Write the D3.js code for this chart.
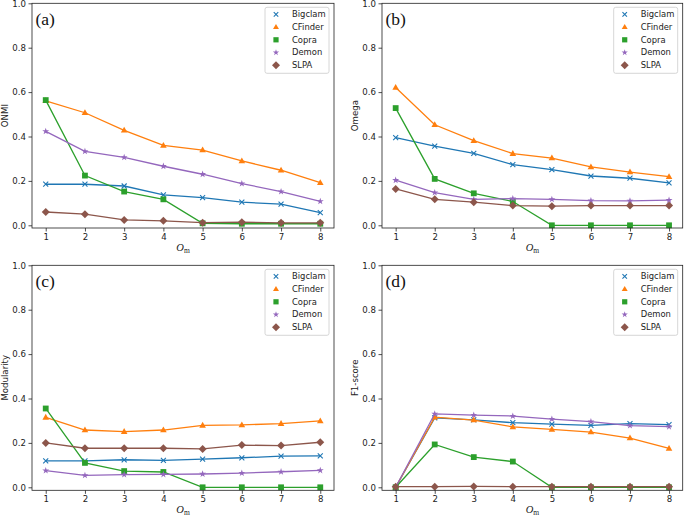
<!DOCTYPE html>
<html><head><meta charset="utf-8">
<script src="https://cdn.jsdelivr.net/npm/d3@7"></script>
<style>body{margin:0;background:#fff} svg{display:block}</style>
</head><body>
<script>
const omValues = [1, 2, 3, 4, 5, 6, 7, 8];
const algorithms = ["Bigclam", "CFinder", "Copra", "Demon", "SLPA"];
const colors = ["#1f77b4", "#ff7f0e", "#2ca02c", "#9467bd", "#8c564b"];
const markerTypes = ["x", "triangle", "square", "star", "diamond"];
const yTicks = [0, 0.2, 0.4, 0.6, 0.8, 1.0];
const panelLetters = ["(a)", "(b)", "(c)", "(d)"];
const metricNames = ["ONMI", "Omega", "Modularity", "F1-score"];

// values per algorithm (Bigclam, CFinder, Copra, Demon, SLPA)
const onmiValues = [
  [0.185, 0.185, 0.177, 0.137, 0.125, 0.104, 0.095, 0.057],
  [0.561, 0.507, 0.428, 0.360, 0.339, 0.290, 0.248, 0.192],
  [0.564, 0.224, 0.152, 0.117, 0.009, 0.007, 0.007, 0.007],
  [0.423, 0.333, 0.306, 0.266, 0.230, 0.188, 0.152, 0.108],
  [0.060, 0.050, 0.024, 0.020, 0.012, 0.014, 0.011, 0.011]
];
const omegaValues = [
  [0.395, 0.357, 0.324, 0.273, 0.251, 0.222, 0.212, 0.191],
  [0.621, 0.453, 0.381, 0.323, 0.303, 0.263, 0.240, 0.219],
  [0.528, 0.209, 0.144, 0.107, 0.000, 0.000, 0.000, 0.000],
  [0.203, 0.147, 0.117, 0.120, 0.117, 0.111, 0.110, 0.113],
  [0.164, 0.117, 0.104, 0.089, 0.086, 0.089, 0.089, 0.089]
];
const modularityValues = [
  [0.119, 0.119, 0.124, 0.121, 0.127, 0.133, 0.140, 0.142],
  [0.315, 0.258, 0.251, 0.258, 0.279, 0.281, 0.287, 0.299],
  [0.355, 0.110, 0.073, 0.069, 0.000, 0.000, 0.000, 0.000],
  [0.075, 0.054, 0.057, 0.058, 0.060, 0.064, 0.070, 0.076],
  [0.200, 0.176, 0.176, 0.176, 0.173, 0.190, 0.188, 0.203]
];
const f1Values = [
  [0.000, 0.313, 0.304, 0.291, 0.285, 0.279, 0.287, 0.282],
  [0.000, 0.316, 0.303, 0.272, 0.261, 0.249, 0.222, 0.175],
  [0.000, 0.193, 0.136, 0.116, 0.000, 0.000, 0.000, 0.000],
  [0.000, 0.331, 0.325, 0.321, 0.307, 0.296, 0.278, 0.273],
  [0.003, 0.003, 0.004, 0.003, 0.003, 0.003, 0.003, 0.003]
];
const panelData = [onmiValues, omegaValues, modularityValues, f1Values];

const W = 685, H = 516;
const svg = d3.select("body").append("svg").attr("width", W).attr("height", H);
const font = "DejaVu Sans, sans-serif";

const layouts = [
  {left: 32, right: 334, top: 3.3, bottom: 228, zero: 225.3, ylabX: 5},
  {left: 382, right: 682.7, top: 3.3, bottom: 228, zero: 225.3, ylabX: 355},
  {left: 32, right: 334, top: 265.3, bottom: 490.3, zero: 487.3, ylabX: 5},
  {left: 382, right: 682.7, top: 265.3, bottom: 490.3, zero: 487.3, ylabX: 355}
];

function drawMarker(g, x, y, type, color, k) {
  k = k || 1;
  if (type === "x") {
    const r = 2.5 * k;
    g.append("path").attr("d", `M${x-r},${y-r}L${x+r},${y+r}M${x-r},${y+r}L${x+r},${y-r}`)
      .attr("stroke", color).attr("stroke-width", 1.1).attr("fill", "none");
  } else if (type === "triangle") {
    g.append("path").attr("d", `M${x},${y-3.5*k}L${x+3.3*k},${y+2.3*k}L${x-3.3*k},${y+2.3*k}Z`).attr("fill", color);
  } else if (type === "square") {
    const s = 2.9 * k;
    g.append("rect").attr("x", x-s).attr("y", y-s).attr("width", 2*s).attr("height", 2*s).attr("fill", color);
  } else if (type === "star") {
    g.append("path").attr("d", d3.symbol(d3.symbolStar, 15 * k * k)()).attr("transform", `translate(${x},${y})`).attr("fill", color);
  } else if (type === "diamond") {
    const r = 4 * k;
    g.append("path").attr("d", `M${x},${y-r}L${x+r},${y}L${x},${y+r}L${x-r},${y}Z`).attr("fill", color);
  }
}

layouts.forEach((L, p) => {
  const yMin = -(L.bottom - L.zero) / (L.zero - L.top);
  const x = d3.scaleLinear().domain([0.65, 8.35]).range([L.left, L.right]);
  const y = d3.scaleLinear().domain([yMin, 1]).range([L.bottom, L.top]);
  const g = svg.append("g");

  const xAxis = d3.axisBottom(x).tickValues(omValues).tickFormat(d3.format("d")).tickSize(3.5).tickPadding(2.5);
  const yAxis = d3.axisLeft(y).tickValues(yTicks).tickFormat(d3.format(".1f")).tickSize(3.5).tickPadding(2.5);
  const gx = g.append("g").attr("transform", `translate(0,${L.bottom})`).call(xAxis);
  const gy = g.append("g").attr("transform", `translate(${L.left},0)`).call(yAxis);
  [gx, gy].forEach(a => {
    a.select(".domain").remove();
    a.selectAll("line").attr("stroke", "#222").attr("stroke-width", 0.8);
    a.selectAll("text").attr("font-family", font).attr("font-size", 8.6).attr("fill", "#222");
  });

  panelData[p].forEach((vals, s) => {
    const sg = g.append("g");
    const line = d3.line().x((d, i) => x(omValues[i])).y(d => y(d));
    sg.append("path").datum(vals).attr("d", line).attr("fill", "none")
      .attr("stroke", colors[s]).attr("stroke-width", 1.3);
    vals.forEach((v, i) => drawMarker(sg, x(omValues[i]), y(v), markerTypes[s], colors[s]));
  });

  g.append("rect").attr("x", L.left).attr("y", L.top).attr("width", L.right - L.left).attr("height", L.bottom - L.top)
    .attr("fill", "none").attr("stroke", "#222").attr("stroke-width", 0.8);

  g.append("text").attr("x", L.left + 3.5).attr("y", L.top + 21.5).text(panelLetters[p])
    .attr("font-family", "Liberation Serif, serif").attr("font-size", 17.5).attr("fill", "#111");

  const bx = L.right - 69, by = L.top + 4;
  const lg = g.append("g");
  lg.append("rect").attr("x", bx).attr("y", by).attr("width", 64).attr("height", 66).attr("rx", 2)
    .attr("fill", "#fff").attr("fill-opacity", 0.8).attr("stroke", "#ccc").attr("stroke-width", 0.8);
  algorithms.forEach((name, s) => {
    const ry = by + 7 + s * 12.75;
    drawMarker(lg, bx + 11, ry, markerTypes[s], colors[s], s === 4 ? 1 : 0.9);
    lg.append("text").attr("x", bx + 27).attr("y", ry).attr("dy", "0.35em").text(name)
      .attr("font-family", font).attr("font-size", 8.4).attr("fill", "#222");
  });

  const cx = (L.left + L.right) / 2;
  const xl = g.append("text").attr("x", cx).attr("y", L.bottom + 23).attr("text-anchor", "middle")
    .attr("font-family", "Liberation Serif, serif").attr("fill", "#222");
  xl.append("tspan").attr("font-style", "italic").attr("font-size", 10.5).text("O");
  xl.append("tspan").attr("font-size", 7.5).attr("dy", 2).text("m");

  g.append("text").attr("transform", `translate(${L.ylabX + 3},${(L.top + L.bottom) / 2}) rotate(-90)`)
    .attr("text-anchor", "middle").attr("font-family", font).attr("font-size", 8.6).attr("fill", "#222")
    .text(metricNames[p]);
});
</script>
</body></html>
